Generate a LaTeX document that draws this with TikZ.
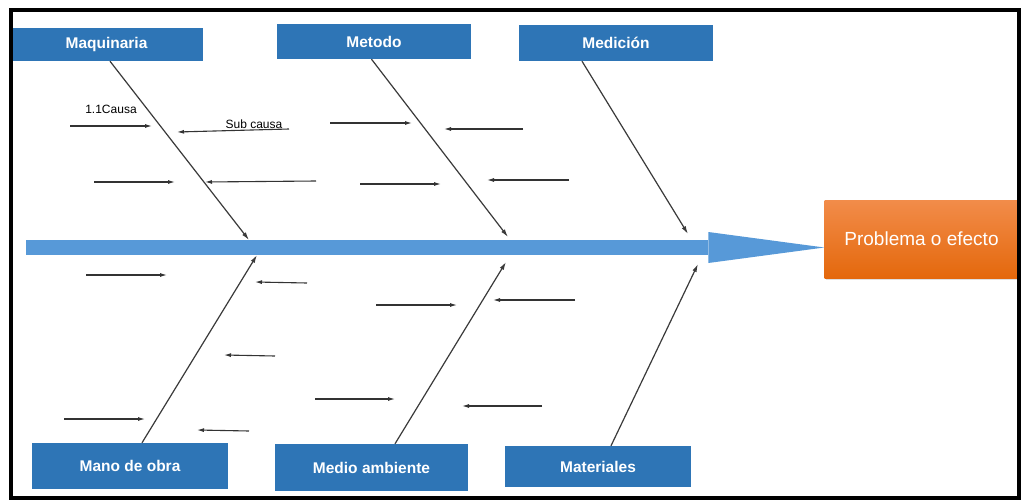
\documentclass[tikz,border=0pt]{standalone}
\usepackage{fontspec}
\setmainfont{Liberation Sans}
\usetikzlibrary{%
        arrows.meta,
        shadows,
    }
\definecolor{boxblue}{HTML}{2E75B6}
\definecolor{spineblue}{HTML}{5799D8}
\definecolor{orangetop}{HTML}{F28C4A}
\definecolor{orangebot}{HTML}{E4680C}
\definecolor{bonegray}{HTML}{3A3A3A}
\tikzset{%
    category/.style={%
        fill=boxblue,
        text=white,
        font=\fontsize{15.5}{17}\selectfont\bfseries,
        inner sep=0pt,
    },
    effectbox/.style={%
        top color=orangetop,
        bottom color=orangebot,
        text=white,
        font=\fontsize{19}{21}\selectfont,
        minimum width=194pt,
        minimum height=78pt,
        drop shadow={opacity=0.25, shadow xshift=1.5pt, shadow yshift=-1.5pt},
    },
    bone/.style={%
        draw=bonegray,
        line width=1.2pt,
        -{Latex[length=8pt, width=4.5pt]},
    },
    subarrow/.style={%
        draw=black!80,
        line width=1.1pt,
        -{Latex[length=7pt, width=4pt]},
    },
    spine/.style={%
        draw=spineblue,
        line width=15pt,
        -{Triangle[length=116pt, width=31pt, line width=0pt]},
    },
    causelabel/.style={%
        font=\fontsize{12}{14}\selectfont,
        inner sep=0pt,
    },
}

\begin{document}
\begin{tikzpicture}[x=1pt, y=-1pt]

    \useasboundingbox (0, 0) rectangle (1021, 501);
    \fill[white] (0, 0) rectangle (1021, 501);

    %%%%%%%%%%%%%%
    % Categories %
    %%%%%%%%%%%%%%
    \node[category, minimum width=193pt, minimum height=33pt]
        (maquinaria) at (106.5, 44.5) {Maquinaria};
    \node[category, minimum width=194pt, minimum height=35pt]
        (metodo) at (374, 41.5) {Metodo};
    \node[category, minimum width=194pt, minimum height=36pt]
        (medicion) at (616, 43) {Medición};
    \node[category, minimum width=196pt, minimum height=46pt]
        (mano) at (130, 466) {Mano de obra};
    \node[category, minimum width=193pt, minimum height=47pt]
        (medio) at (371.5, 467.5) {Medio ambiente};
    \node[category, minimum width=186pt, minimum height=41pt]
        (materiales) at (598, 466.5) {Materiales};

    %%%%%%%%%%
    % Effect %
    %%%%%%%%%%
    \node[effectbox] (efecto) at (921.5, 239) {Problema o efecto};

    % Spine
    \coordinate (tail) at (26, 247.5);
    \draw[spine] (tail) -- (tail -| efecto.west);

    %%%%%%%%%
    % Bones %
    %%%%%%%%%
    \coordinate (b-maquinaria) at (249, 240);
    \coordinate (b-metodo) at (508, 237);
    \coordinate (b-medicion) at (688, 234);
    \coordinate (b-mano) at (257, 255);
    \coordinate (b-medio) at (506, 262);
    \coordinate (b-materiales) at (698, 264);

    \foreach \cat/\shift/\side in {%
        maquinaria/3.5/south, metodo/-2.5/south, medicion/-34/south,%
        mano/12/north, medio/23.5/north, materiales/13/north%
    }{%
        \draw[bone] ([xshift=\shift pt] \cat.\side) -- (b-\cat);
    };

    %%%%%%%%%%%%%%
    % Sub-causes %
    %%%%%%%%%%%%%%
    \foreach \xa/\ya/\xb/\yb in {%
        70/126/152/126, 289/129/177/132, 94/182/175/182, 316/181/205/182,%
        330/123/412/123, 523/129/444/129, 360/184/441/184, 569/180/487/180,%
        86/275/167/275, 307/283/255/282, 275/356/224/355, 64/419/145/419,%
        249/431/197/430, 315/399/395/399, 376/305/457/305, 575/300/493/300,%
        542/406/462/406%
    }{%
        \draw[subarrow] (\xa, \ya) -- (\xb, \yb);
    };

    \node[causelabel] (causa) at (111, 109) {1.1Causa};
    \node[causelabel] (subcausa) at (254, 124.5) {Sub causa};

    %%%%%%%%%
    % Frame %
    %%%%%%%%%
    \draw[line width=4pt] (10.5, 10) rectangle (1019, 498);

\end{tikzpicture}
\end{document}
